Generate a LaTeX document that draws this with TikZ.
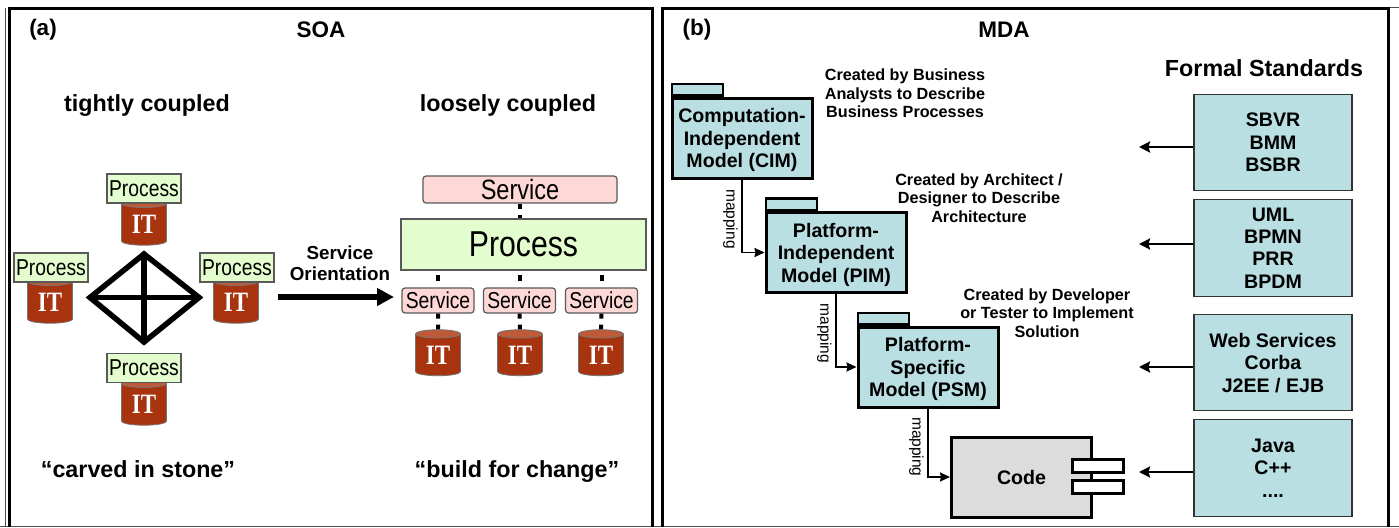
\documentclass[tikz,border=0pt]{standalone}
\usepackage{fontspec}
\setmainfont{Liberation Sans}
\newfontfamily\itfont[FakeStretch=0.82]{Liberation Serif}
\newfontfamily\boxfont[FakeStretch=0.84]{Liberation Sans}
\usepackage{tikz}
\usetikzlibrary{arrows.meta, positioning, shapes.geometric}
\definecolor{pkgblue}{HTML}{B9DFE3}
\definecolor{procgreen}{HTML}{E3FDCF}
\definecolor{servpink}{HTML}{FDD8D6}
\definecolor{diskred}{HTML}{A8330F}
\definecolor{disktop}{HTML}{BE5A38}
\definecolor{codegray}{HTML}{DCDCDC}
\newcommand{\fs}[2]{\fontsize{#1}{#2}\selectfont}
\newcommand{\drawPackageTab}[1]{\node[packagetab] (#1tab) at (#1.north west) {};}
\newcommand{\drawPort}[3]{\node[port] (#1) at (#2,#3) {};}
\tikzset{>={Stealth[length=10pt,width=9pt,inset=1pt]},
    x=1pt, y=-1pt,
    node distance=40pt,
    title/.style={font=\bfseries\fs{22.5}{26}},
    heading/.style={font=\bfseries\fs{23.3}{28},text height=17pt,text depth=5pt},
    orient/.style={font=\bfseries\fs{18.8}{21},align=center},
    note/.style={font=\bfseries\fs{16.2}{18.4},align=center},
    process/.style={rectangle,draw=black!65,line width=1.2pt,fill=procgreen,inner sep=0pt,
        font=\boxfont\fs{23}{26},minimum width=74pt,minimum height=29pt},
    service/.style={rectangle,rounded corners=3pt,draw=black!65,line width=1.2pt,fill=servpink,inner sep=0pt,
        font=\boxfont\fs{23}{26},minimum width=72pt,minimum height=25pt},
    disk/.style={cylinder,shape border rotate=90,aspect=0.34,draw=black!55,line width=.8pt,
        cylinder uses custom fill,cylinder body fill=diskred,cylinder end fill=disktop,
        text=white,inner sep=0pt,font=\itfont\bfseries\fs{28}{30},
        minimum width=45pt,minimum height=46pt},
    package/.style={rectangle,draw=black,line width=3pt,fill=pkgblue,inner sep=0pt,align=center,
        font=\bfseries\fs{19.6}{22.4},text depth=0pt,minimum width=140pt,minimum height=80pt},
    packagetab/.style={rectangle,draw=black,line width=2.5pt,fill=pkgblue,inner sep=0pt,anchor=south west,
        minimum width=51pt,minimum height=11.5pt},
    standard/.style={rectangle,draw=black!80,line width=1.4pt,fill=pkgblue,inner sep=0pt,align=center,
        font=\bfseries\fs{19.6}{22.4},text depth=-3pt,minimum width=158pt,minimum height=96.5pt},
    port/.style={rectangle,draw=black,line width=2.4pt,fill=white,inner sep=0pt,
        minimum width=51pt,minimum height=13pt},
    mapline/.style={->,line width=1.8pt},
    stdline/.style={-{Stealth[length=11pt,width=11pt,inset=1.5pt]},line width=2.5pt},
    maplabel/.style={rotate=-90,anchor=north,inner sep=3.5pt,font=\fs{15.5}{18}},
    mesh/.style={line width=5.5pt,line cap=round},
    dotlink/.style={line width=4pt,draw=black,dash pattern=on 5pt off 6pt},
    midlink/.style={line width=4pt,draw=black,dash pattern=on 6pt off 6pt,dash phase=6pt},
    panel/.style={line width=3pt,draw=black},
    edgeline/.style={line width=1pt,draw=black!70}}
\begin{document}
\begin{tikzpicture}
\useasboundingbox (0,0) rectangle (1399,527);
\draw[edgeline] (5,8) -- (5,527);
\draw[edgeline] (0,526) -- (1399,526);
\draw[edgeline] (1388,7.5) -- (1399,7.5);
\draw[panel] (9.5,527) |- (652,8.5) -- (652,527);
\draw[panel] (662.5,527) |- (1388,8.5) -- (1388,527);

\node[title] (a) at (43,30) {(a)};
\node[title] (soa) at (321,30) {SOA};
\node[title] (b) at (697,30) {(b)};
\node[title] (mda) at (1004,30) {MDA};
\node[heading] (tight) at (147,105) {tightly coupled};
\node[heading] (loose) at (508,105) {loosely coupled};
\node[heading] (stone) at (138,471.5) {“carved in stone”};
\node[heading] (change) at (517,471.5) {“build for change”};
\node[orient] (so) at (340,263.5) {Service\\Orientation};

\node[disk] (d1) at (144,224.5) {IT};
\node[disk] (d2) at (50,302.5) {IT};
\node[disk] (d3) at (236,302.5) {IT};
\node[disk] (d4) at (144,404.5) {IT};
\node[process] (p1) at (144,188.5) {Process};
\node[process] (p2) at (51,267.5) {Process};
\node[process] (p3) at (237,267.5) {Process};
\node[process] (p4) at (144,368) {Process};

\coordinate (mt) at (144,254);
\coordinate (ml) at (90,297.5);
\coordinate (mr) at (199,297.5);
\coordinate (mb) at (144,342);
\draw[mesh] (mt) -- (mr) -- (mb) -- (ml) -- cycle;
\draw[mesh] (mt) -- (mb);
\draw[mesh] (ml) -- (mr);

\coordinate (sofrom) at (278,297);
\coordinate (soto) at (394,297);
\draw[-{Triangle[length=17pt,width=17pt]},line width=6pt] (sofrom) -- (soto);

\node[service,minimum width=194pt,minimum height=27pt,font=\boxfont\fs{28}{30}] (st) at (520,189.5) {Service};
\node[process,minimum width=245pt,minimum height=51pt,font=\boxfont\fs{36}{40}] (pm) at (523.5,244.5) {Process};
\node[service] (s1) at (438,300.5) {Service};
\node[service] (s2) at (519.5,300.5) {Service};
\node[service] (s3) at (601.5,300.5) {Service};
\node[disk] (e1) at (438,355) {IT};
\node[disk] (e2) at (520,355) {IT};
\node[disk] (e3) at (601,355) {IT};

\draw[dotlink] (st.south) -- (st.south |- pm.north);
\draw[midlink] (s1.north) -- (s1.north |- pm.south);
\draw[midlink] (s2.north) -- (s2.north |- pm.south);
\draw[midlink] (s3.north) -- (s3.north |- pm.south);
\draw[dotlink] (s1.south) -- (e1.north);
\draw[dotlink] (s2.south) -- (e2.north);
\draw[dotlink] (s3.south) -- (e3.north);

\node[package] (cim) at (742,138) {Computation-\\Independent\\Model (CIM)};
\node[package] (pim) at (836,252.5) {Platform-\\Independent\\Model (PIM)};
\node[package] (psm) at (928,367) {Platform-\\Specific\\Model (PSM)};
\drawPackageTab{cim}
\drawPackageTab{pim}
\drawPackageTab{psm}
\node[package,fill=codegray] (code) at (1021.5,477) {Code};
\drawPort{po1}{1098}{466}
\drawPort{po2}{1098}{487}

\draw[mapline] (cim.south) |- node[maplabel,pos=.27] {mapping} (pim.west);
\draw[mapline] (pim.south) |- node[maplabel,pos=.27] {mapping} (psm.west);
\draw[mapline] (psm.south) |- node[maplabel,pos=.28] {mapping} (code.west);

\node[note] (n1) at (905,93.5) {Created by Business\\Analysts to Describe\\Business Processes};
\node[note] (n2) at (979,198) {Created by Architect /\\Designer to Describe\\Architecture};
\node[note] (n3) at (1047,313) {Created by Developer\\or Tester to Implement\\Solution};
\node[heading] (formal) at (1264,71) {Formal Standards};

\node[standard] (f1) at (1273,142.5) {SBVR\\BMM\\BSBR};
\node[standard] (f2) at (1273,248) {UML\\BPMN\\PRR\\BPDM};
\node[standard] (f3) at (1273,362.5) {Web Services\\Corba\\J2EE / EJB};
\node[standard] (f4) at (1273,468) {Java\\C++\\....};

\coordinate (t1) at (1139,147);
\coordinate (t2) at (1139,244);
\coordinate (t3) at (1139,367);
\coordinate (t4) at (1139,472);
\draw[stdline] (f1.west |- t1) -- (t1);
\draw[stdline] (f2.west |- t2) -- (t2);
\draw[stdline] (f3.west |- t3) -- (t3);
\draw[stdline] (f4.west |- t4) -- (t4);
\end{tikzpicture}
\end{document}
